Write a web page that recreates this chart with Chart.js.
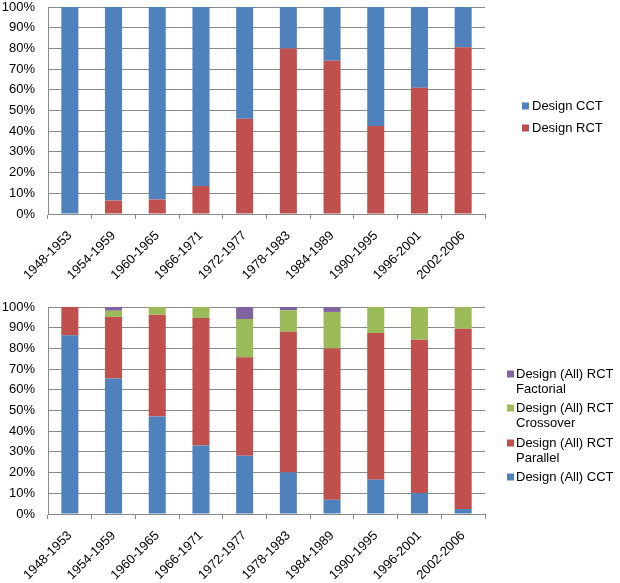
<!DOCTYPE html>
<html>
<head>
<meta charset="utf-8">
<script src="https://cdn.jsdelivr.net/npm/chart.js@4"></script>
<style>
  body { margin: 0; background: #fff; }
  #wrap { position: relative; width: 620px; height: 583px; }
  canvas { position: absolute; left: 0; }
  #topChart { top: 0; }
  #bottomChart { top: 300px; }
</style>
</head>
<body>
<div id="wrap">
  <canvas id="topChart" width="620" height="300"></canvas>
  <canvas id="bottomChart" width="620" height="283"></canvas>
</div>
<script>
// periods on the x axis
const periods = ['1948-1953', '1954-1959', '1960-1965', '1966-1971', '1972-1977',
                 '1978-1983', '1984-1989', '1990-1995', '1996-2001', '2002-2006'];
const yTicks = [0, 10, 20, 30, 40, 50, 60, 70, 80, 90, 100];

// top chart: share of RCT vs CCT (percent)
const designRCT = [0, 6.5, 7, 13.5, 46, 80, 74, 42.5, 61, 80.5];
const designCCT = [100, 93.5, 93, 86.5, 54, 20, 26, 57.5, 39, 19.5];

// bottom chart: segments (percent), bottom to top
const allCCT       = [86.3, 65.4, 47.1, 33.1, 28.2, 20.1, 6.9, 16.6, 10.1, 2.4];
const allParallel  = [13.7, 29.8, 49.2, 61.6, 47.5, 67.9, 73.0, 70.8, 74.1, 87.1];
const allCrossover = [0, 3.0, 3.7, 5.3, 18.5, 10.4, 17.7, 12.6, 15.8, 10.5];
const allFactorial = [0, 1.8, 0, 0, 5.8, 1.6, 2.4, 0, 0, 0];

const BLUE = '#4F81BD', RED = '#C0504D', GREEN = '#9BBB59', PURPLE = '#8064A2';
const GRID = '#8a8a8a';
const FONT = '"Liberation Sans", Arial, sans-serif';

/**
 * plugin that draws a legend with square markers and multi-line labels
 */
const boxLegend = {
    id: 'boxLegend',
    afterDraw(chart, args, opts) {
        const ctx = chart.ctx;
        ctx.save();
        ctx.font = '13px ' + FONT;
        ctx.textBaseline = 'middle';
        opts.items.forEach(item => {
            ctx.fillStyle = item.color;
            ctx.fillRect(opts.x, item.y - 3.5, 7, 7);
            ctx.fillStyle = '#000';
            item.lines.forEach((line, i) => {
                ctx.fillText(line, opts.x + opts.gap, item.y + i * opts.lineHeight);
            });
        });
        ctx.restore();
    }
};

/**
 * build one 100% stacked bar chart
 * @param {string} canvasID - canvas to draw into
 * @param {Array} datasets - series, bottom of the stack first
 * @param {object} legend - options for the box legend plugin
 */
function makeChart(canvasID, datasets, legend) {
    const canvas = document.getElementById(canvasID);
    const xHeight = canvas.height - 214;  // keeps plot bottom at y=214 in each canvas
    return new Chart(canvas.getContext('2d'), {
        type: 'bar',
        data: {
            labels: periods,
            datasets: datasets.map(d => ({
                label: d.label,
                data: d.data,
                backgroundColor: d.color,
                borderWidth: 0,
                categoryPercentage: 1,
                barPercentage: 0.39
            }))
        },
        options: {
            responsive: false,
            animation: false,
            devicePixelRatio: 1,
            layout: { padding: { top: 7, right: 135, left: 0, bottom: 0 } },
            plugins: {
                legend: { display: false },
                tooltip: { enabled: false },
                boxLegend: legend
            },
            scales: {
                x: {
                    stacked: true,
                    afterFit(scale) {
                        scale.height = xHeight;
                        scale.paddingLeft = 0;
                        scale.paddingRight = 0;
                    },
                    grid: {
                        offset: true,
                        drawOnChartArea: false,
                        color: GRID,
                        tickLength: 5
                    },
                    border: { color: GRID },
                    ticks: {
                        minRotation: 45,
                        maxRotation: 45,
                        autoSkip: false,
                        padding: 9,
                        color: '#000',
                        font: { family: FONT, size: 13 }
                    }
                },
                y: {
                    stacked: true,
                    min: 0,
                    max: 100,
                    afterFit(scale) {
                        scale.width = 48;
                        scale.paddingTop = 0;
                        scale.paddingBottom = 0;
                    },
                    afterBuildTicks(scale) { scale.ticks = yTicks.map(v => ({ value: v })); },
                    grid: { color: GRID, drawTicks: false },
                    border: { color: GRID },
                    ticks: {
                        autoSkip: false,
                        padding: 13,
                        color: '#000',
                        font: { family: FONT, size: 13 },
                        callback: v => v + '%'
                    }
                }
            }
        },
        plugins: [boxLegend]
    });
}

makeChart('topChart', [
    { label: 'Design RCT', data: designRCT, color: RED },
    { label: 'Design CCT', data: designCCT, color: BLUE }
], {
    x: 522, gap: 10, lineHeight: 16,
    items: [
        { color: BLUE, y: 106, lines: ['Design CCT'] },
        { color: RED, y: 128, lines: ['Design RCT'] }
    ]
});

makeChart('bottomChart', [
    { label: 'Design (All) CCT', data: allCCT, color: BLUE },
    { label: 'Design (All) RCT Parallel', data: allParallel, color: RED },
    { label: 'Design (All) RCT Crossover', data: allCrossover, color: GREEN },
    { label: 'Design (All) RCT Factorial', data: allFactorial, color: PURPLE }
], {
    x: 507, gap: 9, lineHeight: 15.5,
    items: [
        { color: PURPLE, y: 74, lines: ['Design (All) RCT', 'Factorial'] },
        { color: GREEN, y: 108, lines: ['Design (All) RCT', 'Crossover'] },
        { color: RED, y: 143, lines: ['Design (All) RCT', 'Parallel'] },
        { color: BLUE, y: 177, lines: ['Design (All) CCT'] }
    ]
});
</script>
</body>
</html>
